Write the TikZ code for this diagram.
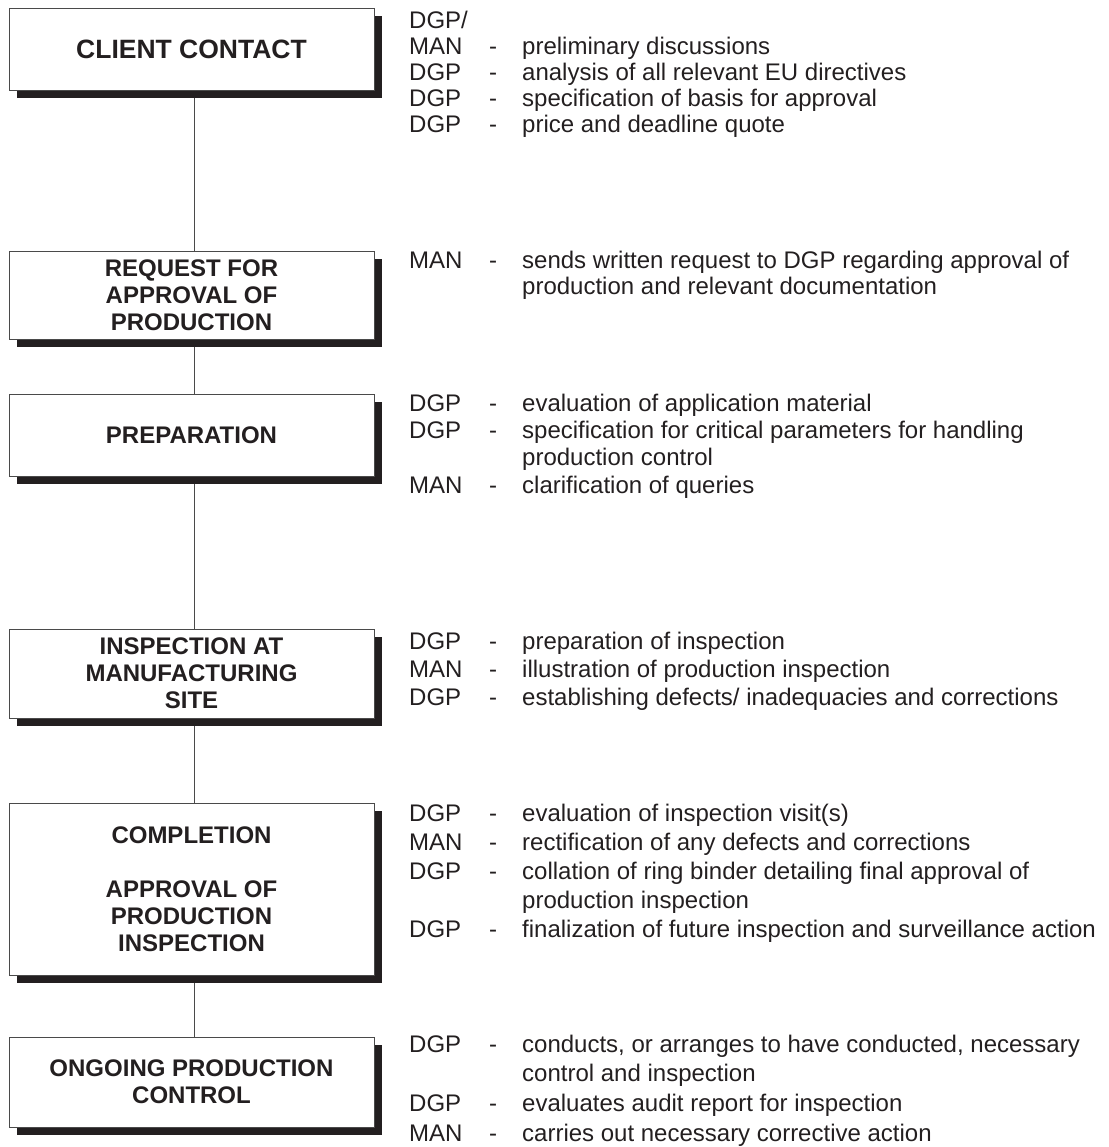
\documentclass[tikz,border=0pt]{standalone}
\usepackage{fontspec}
\setmainfont{Liberation Sans}
\pgfdeclarelayer{background}
\pgfsetlayers{background,main}
\definecolor{ink}{HTML}{231F20}
\definecolor{linec}{HTML}{4A4A4A}
\tikzset{
  stepbox/.style={draw=linec, line width=0.9pt, fill=white, minimum width=365pt,
    inner sep=0pt, align=center, text=ink,
    font=\bfseries\fontsize{24}{27}\selectfont,
    preaction={fill=ink, transform canvas={xshift=8pt, yshift=-8pt}}},
  txt/.style={anchor=base west, inner sep=0pt, text=ink},
  link/.style={draw=linec, line width=0.9pt}
}
\newcommand{\cols}{@{}p{80pt}@{}p{33pt}@{}l@{}}
\begin{document}
\begin{tikzpicture}[x=1pt, y=-1pt]
\useasboundingbox (0,0) rectangle (1108,1147);

% boxes
\node[stepbox, minimum height=82pt, font=\bfseries\fontsize{26.5}{30}\selectfont] (b1) at (191.5,49) {CLIENT CONTACT};
\node[stepbox, minimum height=88pt] (b2) at (191.5,295) {REQUEST FOR\\APPROVAL OF\\PRODUCTION};
\node[stepbox, minimum height=82pt] (b3) at (191.5,435) {PREPARATION};
\node[stepbox, minimum height=89pt] (b4) at (191.5,673.5) {INSPECTION AT\\MANUFACTURING\\SITE};
\node[stepbox, minimum height=172pt] (b5) at (191.5,889) {COMPLETION\\[27pt]APPROVAL OF\\PRODUCTION\\INSPECTION};
\node[stepbox, minimum height=90pt] (b6) at (191.5,1082) {ONGOING PRODUCTION\\CONTROL};

% connectors
\begin{pgfonlayer}{background}
\draw[link] ([xshift=2.5pt]b1.south) -- ([xshift=2.5pt]b2.north);
\draw[link] ([xshift=2.5pt]b2.south) -- ([xshift=2.5pt]b3.north);
\draw[link] ([xshift=2.5pt]b3.south) -- ([xshift=2.5pt]b4.north);
\draw[link] ([xshift=2.5pt]b4.south) -- ([xshift=2.5pt]b5.north);
\draw[link] ([xshift=2.5pt]b5.south) -- ([xshift=2.5pt]b6.north);
\end{pgfonlayer}

% descriptions
\node[txt, font=\fontsize{24}{25.8}\selectfont] (t1) at (409,29) {\begin{tabular}[t]{\cols}
DGP/ & & \\
MAN & - & preliminary discussions\\
DGP & - & analysis of all relevant EU directives\\
DGP & - & specification of basis for approval\\
DGP & - & price and deadline quote
\end{tabular}};

\node[txt, font=\fontsize{24}{26}\selectfont] (t2) at (409,269) {\begin{tabular}[t]{\cols}
MAN & - & sends written request to DGP regarding approval of\\
 & & production and relevant documentation
\end{tabular}};

\node[txt, font=\fontsize{24}{27.4}\selectfont] (t3) at (409,411) {\begin{tabular}[t]{\cols}
DGP & - & evaluation of application material\\
DGP & - & specification for critical parameters for handling\\
 & & production control\\
MAN & - & clarification of queries
\end{tabular}};

\node[txt, font=\fontsize{24}{28}\selectfont] (t4) at (409,649) {\begin{tabular}[t]{\cols}
DGP & - & preparation of inspection\\
MAN & - & illustration of production inspection\\
DGP & - & establishing defects/ inadequacies and corrections
\end{tabular}};

\node[txt, font=\fontsize{24}{29}\selectfont] (t5) at (409,821) {\begin{tabular}[t]{\cols}
DGP & - & evaluation of inspection visit(s)\\
MAN & - & rectification of any defects and corrections\\
DGP & - & collation of ring binder detailing final approval of\\
 & & production inspection\\
DGP & - & finalization of future inspection and surveillance action
\end{tabular}};

\node[txt, font=\fontsize{24}{29.9}\selectfont] (t6) at (409,1052) {\begin{tabular}[t]{\cols}
DGP & - & conducts, or arranges to have conducted, necessary\\
 & & control and inspection\\
DGP & - & evaluates audit report for inspection\\
MAN & - & carries out necessary corrective action
\end{tabular}};
\end{tikzpicture}
\end{document}
